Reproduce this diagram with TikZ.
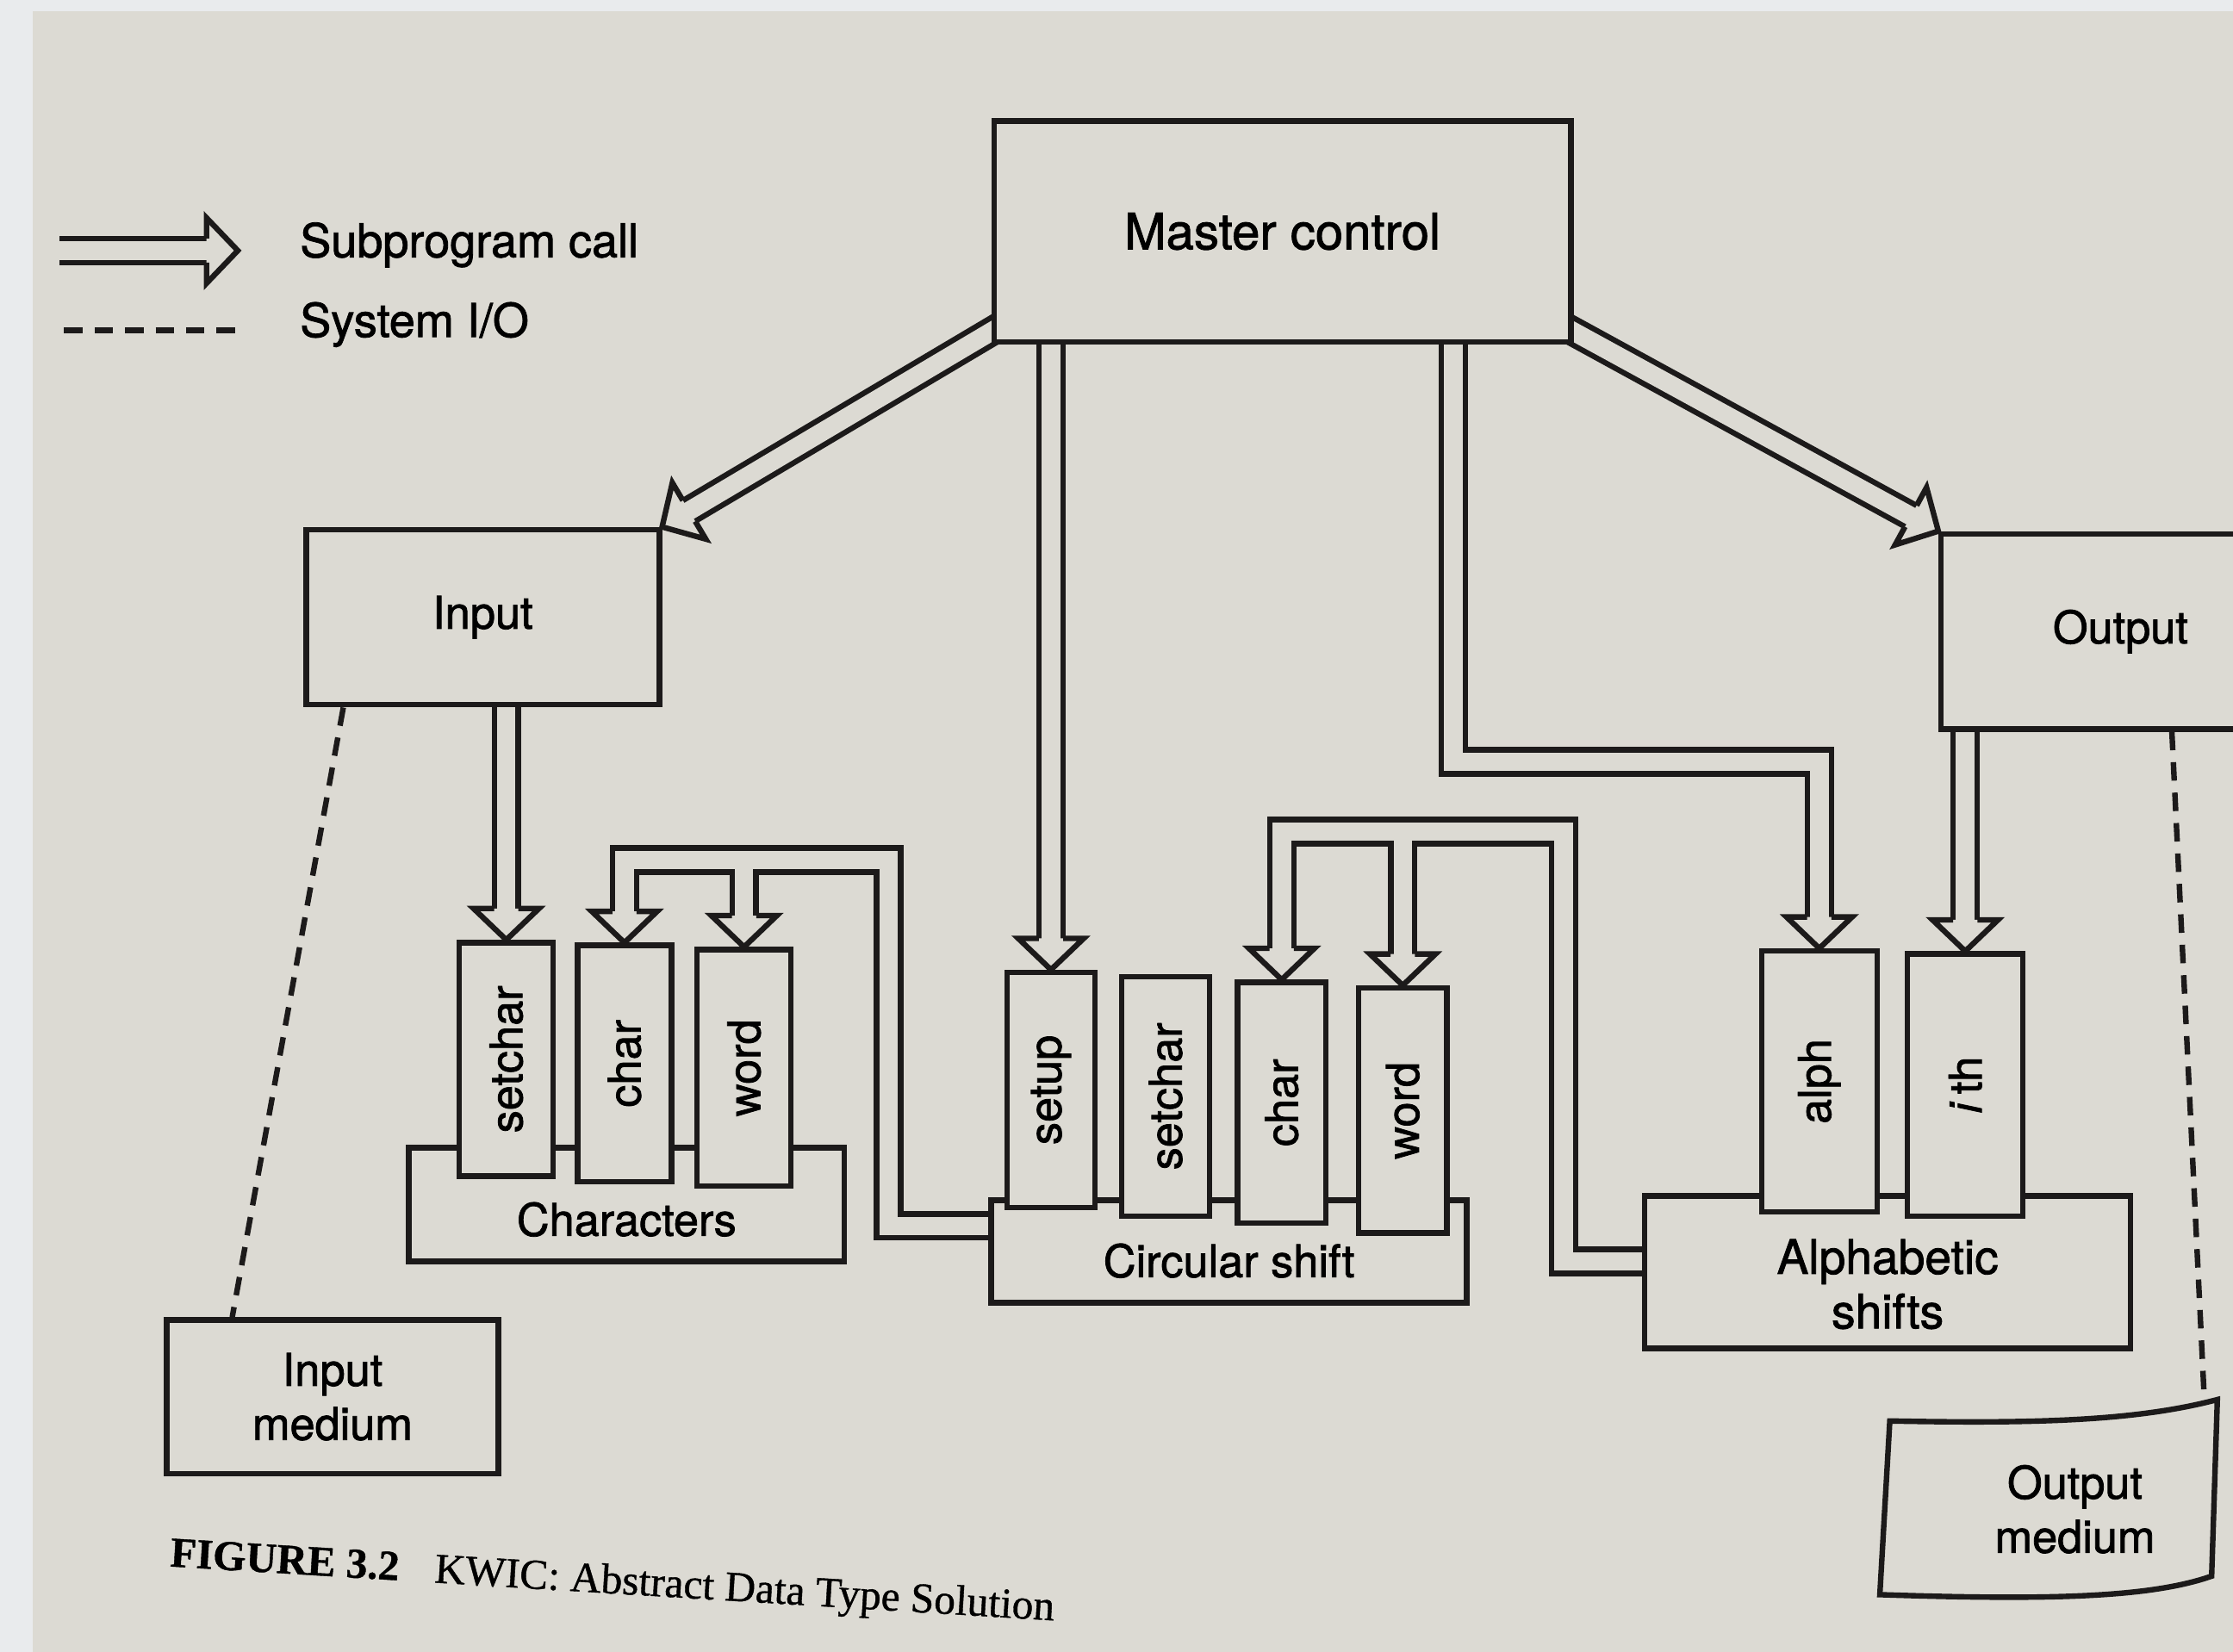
\documentclass[tikz,border=0pt]{standalone}
\usepackage{fontspec}
\usepackage{graphicx}
\setmainfont{TeX Gyre Heros}[FakeBold=1.5]
\newfontfamily\serifcap{Liberation Serif}[FakeBold=0.8]
\usetikzlibrary{calc}
\definecolor{paper}{RGB}{220,218,211}
\definecolor{rim}{RGB}{233,235,237}
\definecolor{ink}{RGB}{28,26,26}
\newcommand\boxfont{\fontsize{9}{10.8}\selectfont}
\newcommand\mcfont{\fontsize{10}{12}\selectfont}
\newcommand\legfont{\fontsize{9.3}{11}\selectfont}
\newcommand\capfont{\serifcap\fontsize{8.5}{10}\selectfont}
\newcommand\headlen{2.2mm}
\newcommand\headw{2.3mm}
\newcommand\pipeoff{0.85mm}
% hollow head of a subprogram call: tip #1, seen from #2
\newcommand\callhead[2]{%
  \path (#1) coordinate (ht) ($(#1)!\headlen!(#2)$) coordinate (hb);
  \filldraw[head] ($(hb)!\pipeoff!90:(ht)$) -- ($(hb)!\headw!90:(ht)$) -- (ht)
    -- ($(hb)!\headw!-90:(ht)$) -- ($(hb)!\pipeoff!-90:(ht)$);}
\newcommand\downhead[1]{\callhead{#1}{[yshift=1cm]#1}}
\pgfdeclarelayer{sheet}
\pgfdeclarelayer{pipes}
\pgfsetlayers{sheet,pipes,main}
\tikzset{
  box/.style={draw=ink,fill=paper,line width=1.1pt,font=\boxfont,align=center,inner sep=0pt},
  base/.style={box,inner ysep=0pt},
  col/.style={box,minimum width=#1},
  pipe/.style={draw=paper,line width=3.7pt,line join=miter,
    preaction={draw=ink,line width=5.9pt}},
  head/.style={draw=ink,fill=paper,line width=1.1pt,line join=miter},
  sysio/.style={draw=ink,line width=1.1pt,dash pattern=on 1.3mm off 0.84mm},
  legend/.style={font=\legfont,inner sep=0pt,anchor=west},
}

\begin{document}
\begin{tikzpicture}[x=0.1mm,y=-0.1mm]
  \useasboundingbox (0,0) rectangle (1568,1160);
  \begin{pgfonlayer}{sheet}
    \fill[rim] (0,0) rectangle (1568,1160);
    \fill[paper] (23,8) rectangle (1568,1160);
  \end{pgfonlayer}
  \clip (0,0) rectangle (1568,1160);

  % legend
  \coordinate (lgs) at (42,176);
  \coordinate (lge) at (167,176);
  \node[legend] (lgcall) at (210,172) {Subprogram call};
  \coordinate (lds) at (45,232);
  \coordinate (lde) at (165,232);
  \node[legend] (lgio) at (210,228) {System I/O};
  \draw[sysio] (lds) -- (lde);

  % modules
  \node[box,minimum width=40.5mm,minimum height=15.5mm,font=\mcfont] (mc) at (900.5,162.5) {Master control};
  \node[box,minimum width=24.8mm,minimum height=12.3mm] (inp) at (339,433.5) {Input};
  \node[box,minimum width=25.2mm,minimum height=13.7mm] (outp) at (1489,443.5) {Output};

  \node[base,minimum width=30.6mm,text height=6.2mm,text depth=1.8mm] (chars) at (440,846) {Characters};
  \foreach \nm/\tx/\x/\y/\h in {chset/setchar/355.5/744/16.4,chchar/char/438.5/747/16.6,chword/word/522.5/750/16.6}
    \node[col=6.6mm,minimum height=\h mm] (\nm) at (\x,\y) {\rotatebox{90}{\tx}};

  \node[base,minimum width=33.4mm,text height=5.4mm,text depth=1.8mm] (cs) at (863,879) {Circular shift};
  \foreach \nm/\tx/\x/\y/\h in {cssetup/setup/738/765.5/16.5,csset/setchar/818.5/770/16.8,
      cschar/char/900/774.5/16.9,csword/word/985/780/17.2}
    \node[col=6.2mm,minimum height=\h mm] (\nm) at (\x,\y) {\rotatebox{90}{\tx}};

  \node[base,minimum width=34.1mm,text height=9.3mm,text depth=1.4mm,
    font=\fontsize{9.5}{10.9}\selectfont] (as) at (1325.5,893.5) {Alphabetic\\shifts};
  \foreach \nm/\tx/\x/\y/\h in {asalph/alph/1277.5/759.5/18.3,asith/{\textit{i}\,th}/1380/762/18.4}
    \node[col=8.1mm,minimum height=\h mm] (\nm) at (\x,\y) {\rotatebox{90}{\tx}};

  % media
  \node[box,minimum width=23.3mm,minimum height=10.8mm] (inmed) at (233.5,981) {Input\\medium};
  \draw[box] (1327,998) .. controls (1430,1000) and (1500,998) .. (1557,983) -- (1553,1107)
    .. controls (1510,1122) and (1440,1124) .. (1320,1120) -- cycle;
  \node[font=\boxfont,align=center,inner sep=0pt] (omed) at (1457,1060) {Output\\medium};
  \coordinate (omtop) at (1548,986);

  \draw[sysio] ([xshift=2.8mm]inp.south west) -- ([xshift=4.8mm]inmed.north west);
  \draw[sysio] ([xshift=16.4mm]outp.south west) -- (omtop);

  % subprogram calls
  \coordinate (csup) at (624,604);
  \coordinate (asup) at (1098,584);
  \begin{pgfonlayer}{pipes}
    \draw[pipe] (lgs) -- ($(lge)!1.2mm!(lgs)$);
    \draw[pipe] ($(inp.north east)!1.15!(mc.199)$) -- ($(inp.north east)!1.2mm!(mc.199)$);
    \draw[pipe] ($(outp.north west)!1.15!(mc.341)$) -- ($(outp.north west)!1.2mm!(mc.341)$);
    \draw[pipe] (cssetup.north |- mc.center) -- ([yshift=1.2mm]cssetup.north);
    \draw[pipe] ([xshift=12mm]mc.center) |- ([yshift=13.1mm]asalph.north) -- ([yshift=1.2mm]asalph.north);
    \draw[pipe] (asith.north |- outp.center) -- ([yshift=1.2mm]asith.north);
    \draw[pipe] (chset.north |- inp.center) -- ([yshift=1.2mm]chset.north);
    \draw[pipe] ([yshift=1.8mm]cs.center) -| (csup) -| ([yshift=1.2mm]chchar.north)
      (csup -| chword.north) -- ([yshift=1.2mm]chword.north);
    \draw[pipe] ([yshift=0.75mm]as.center) -| (asup) -| ([yshift=1.2mm]cschar.north)
      (asup -| csword.north) -- ([yshift=1.2mm]csword.north);
    \callhead{lge}{lgs}
    \callhead{inp.north east}{mc.199}
    \callhead{outp.north west}{mc.341}
    \foreach \nm in {cssetup,asalph,asith,chset,chchar,chword,cschar,csword}{
      \downhead{\nm.north}}
  \end{pgfonlayer}

  \node[font=\capfont,rotate=-3.5,inner sep=0pt] (cap) at (430,1112)
    {{\bfseries FIGURE 3.2}\hspace{2.5mm}KWIC: Abstract Data Type Solution};
\end{tikzpicture}
\end{document}
